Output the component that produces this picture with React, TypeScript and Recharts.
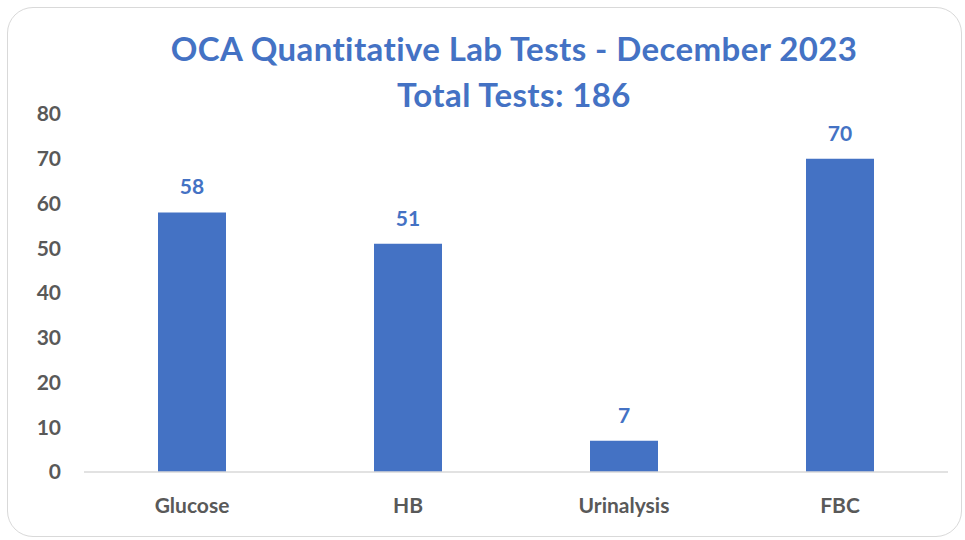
import { BarChart, Bar, XAxis, YAxis, LabelList } from 'recharts';

const categories = ['Glucose', 'HB', 'Urinalysis', 'FBC'];
const testCounts = [58, 51, 7, 70];
const yTicks = [0, 10, 20, 30, 40, 50, 60, 70, 80];

const data = categories.map((name, i) => ({ name, value: testCounts[i] }));

const FONT = 'Lato, "Open Sans", sans-serif';
const BLUE = '#4472C4';
const GREY = '#595959';

export default function App() {
  return (
    <div style={{ position: 'absolute', left: 0, top: 0, width: 965, height: 540, background: '#fff', fontFamily: FONT }}>
      <div
        style={{
          position: 'absolute',
          left: 7,
          top: 7,
          width: 955,
          height: 530,
          border: '1px solid #d9d9d9',
          borderRadius: 26,
          boxSizing: 'border-box',
        }}
      />
      <div
        style={{
          position: 'absolute',
          left: 0,
          top: 25,
          width: 1028,
          textAlign: 'center',
          color: BLUE,
          fontWeight: 700,
          fontSize: 33,
          letterSpacing: 0.4,
          lineHeight: '46px',
        }}
      >
        <div>OCA Quantitative Lab Tests - December 2023</div>
        <div>Total Tests: 186</div>
      </div>
      <div style={{ position: 'absolute', left: 0, top: 0 }}>
        <BarChart width={965} height={540} data={data} margin={{ top: 114, right: 17, bottom: 0, left: 0 }}>
          <XAxis
            dataKey="name"
            height={68}
            axisLine={{ stroke: '#d9d9d9', strokeWidth: 1.5 }}
            tickLine={false}
            tickSize={0}
            tickMargin={26}
            tick={{ fill: GREY, fontSize: 21, fontWeight: 700, fontFamily: FONT }}
          />
          <YAxis
            width={84}
            domain={[0, 80]}
            ticks={yTicks}
            axisLine={false}
            tickLine={false}
            tickSize={0}
            tickMargin={23}
            tick={{ fill: GREY, fontSize: 21, fontWeight: 700, fontFamily: FONT }}
          />
          <Bar dataKey="value" fill={BLUE} barSize={68} isAnimationActive={false}>
            <LabelList
              dataKey="value"
              position="top"
              offset={18}
              fill={BLUE}
              fontSize={21}
              fontWeight={700}
              fontFamily={FONT}
            />
          </Bar>
        </BarChart>
      </div>
    </div>
  );
}
